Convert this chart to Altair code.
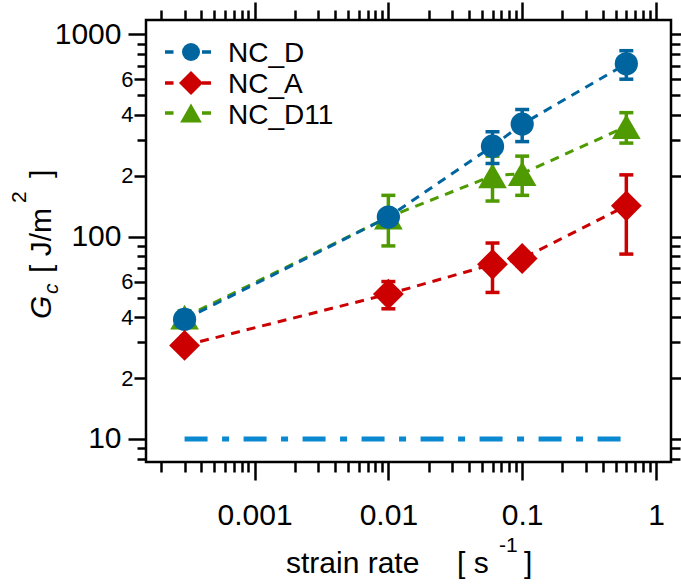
import altair as alt
import pandas as pd

# ---------------- data ----------------
strain_rate = [0.0003, 0.01, 0.06, 0.1, 0.6]
series_names = ["NC_D", "NC_A", "NC_D11"]
nc_d = [39, 125, 280, 360, 715]
nc_d_err = [3, 10, 50, 65, 115]
nc_a = [29, 52, 73, 78, 142]
nc_a_err = [2, 8, 20, 6, 60]
nc_d11 = [40, 125, 200, 205, 350]
nc_d11_err = [3, 35, 50, 45, 60]
ref_x = [0.0003, 0.6]
ref_y = [10, 10]

x_ticks = [0.0002, 0.0003, 0.0004, 0.0005, 0.0006, 0.0007, 0.0008, 0.0009,
           0.001, 0.002, 0.003, 0.004, 0.005, 0.006, 0.007, 0.008, 0.009,
           0.01, 0.02, 0.03, 0.04, 0.05, 0.06, 0.07, 0.08, 0.09,
           0.1, 0.2, 0.3, 0.4, 0.5, 0.6, 0.7, 0.8, 0.9, 1]
y_ticks = [8, 9, 10, 20, 30, 40, 50, 60, 70, 80, 90,
           100, 200, 300, 400, 500, 600, 700, 800, 900, 1000]

colors = {"NC_D": "#00659f", "NC_A": "#cc0000", "NC_D11": "#4e9a00"}
shapes = {"NC_D": "circle", "NC_A": "diamond", "NC_D11": "triangle-up"}
sizes = {"NC_D": 540, "NC_A": 950, "NC_D11": 820}
values = {"NC_D": (nc_d, nc_d_err), "NC_A": (nc_a, nc_a_err), "NC_D11": (nc_d11, nc_d11_err)}

FONT = "Liberation Sans"
W, H = 525, 442
XDOM = [1.545e-4, 1.294]
YDOM = [7.696, 1177]

xs = alt.Scale(type="log", domain=XDOM, nice=False)
ys = alt.Scale(type="log", domain=YDOM, nice=False)

LOG = "(log(datum.value)/LN10)"
ISDEC = f"abs({LOG} - round({LOG})) < 0.001"
MANT = f"round(datum.value / pow(10, floor({LOG} + 0.001)))"
ISLAB = f"({MANT} == 2 || {MANT} == 4 || {MANT} == 6)"

def xaxis(orient, labels):
    kw = dict(values=x_ticks, orient=orient, domain=False, grid=False, title=None,
              tickColor="black", tickWidth=2.5,
              tickSize={"condition": {"test": ISDEC, "value": 18}, "value": 10})
    if labels:
        kw.update(labelExpr=f"{ISDEC} ? format(datum.value, '~g') : ''",
                  labelFont=FONT, labelFontSize=30, labelColor="black",
                  labelPadding=20, labelOverlap=False, labelFlush=False)
    else:
        kw.update(labels=False)
    return alt.Axis(**kw)

def yaxis(orient, labels):
    kw = dict(values=y_ticks, orient=orient, domain=False, grid=False, title=None,
              tickColor="black", tickWidth=2.5,
              tickSize={"condition": [{"test": ISDEC, "value": 18},
                                      {"test": ISLAB, "value": 12}], "value": 9})
    if labels:
        kw.update(labelExpr=f"{ISDEC} ? format(datum.value, '~g') : ({ISLAB} ? format({MANT}, 'd') : '')",
                  labelFont=FONT, labelColor="black",
                  labelFontSize={"condition": {"test": ISDEC, "value": 30}, "value": 22},
                  labelPadding={"condition": {"test": ISDEC, "value": 7}, "value": 1},
                  labelOverlap=False, labelFlush=False)
    else:
        kw.update(labels=False)
    return alt.Axis(**kw)

ref_df = pd.DataFrame({"x": ref_x, "y": ref_y})

# axis holder 1 (bottom / left) + reference dash-dot line
ref_line = alt.Chart(ref_df).mark_line(
    color="#0a88d0", strokeWidth=5, strokeDash=[23, 14.5, 7, 14.5]
).encode(
    x=alt.X("x:Q", scale=xs, axis=xaxis("bottom", True)),
    y=alt.Y("y:Q", scale=ys, axis=yaxis("left", True)),
)
# axis holder 2 (top / right)
ref_ghost = alt.Chart(ref_df).mark_line(opacity=0).encode(
    x=alt.X("x:Q", scale=xs, axis=xaxis("top", False)),
    y=alt.Y("y:Q", scale=ys, axis=yaxis("right", False)),
)

layers = [ref_line, ref_ghost]

for name in ["NC_D11", "NC_D", "NC_A"]:
    v, e = values[name]
    df = pd.DataFrame({"x": strain_rate, "y": v, "err": e})
    base = alt.Chart(df).transform_calculate(
        lo="datum.y - datum.err", hi="datum.y + datum.err"
    )
    c = colors[name]
    X = alt.X("x:Q", scale=xs, axis=None)
    line = base.mark_line(color=c, strokeWidth=3, strokeDash=[9, 7]).encode(
        x=X, y=alt.Y("y:Q", scale=ys, axis=None))
    bar = base.mark_rule(color=c, strokeWidth=3.5).encode(
        x=X, y=alt.Y("lo:Q", scale=ys, axis=None), y2="hi:Q")
    cap_lo = base.mark_tick(color=c, orient="horizontal", size=14, thickness=3.5, opacity=1).encode(
        x=X, y=alt.Y("lo:Q", scale=ys, axis=None))
    cap_hi = base.mark_tick(color=c, orient="horizontal", size=14, thickness=3.5, opacity=1).encode(
        x=X, y=alt.Y("hi:Q", scale=ys, axis=None))
    pts = base.mark_point(shape=shapes[name], filled=True, size=sizes[name], color=c,
                          opacity=1, strokeWidth=0).encode(
        x=X, y=alt.Y("y:Q", scale=ys, axis=None))
    layers += [line, bar, cap_lo, cap_hi, pts]

# ---------------- legend (manual) ----------------
OX, OY = 146, 20  # plot origin in page pixels
leg_rows = [52, 83, 113]
leg_text_base = [62, 93, 124]
one = pd.DataFrame({"a": [0]})
for i, name in enumerate(series_names):
    c = colors[name]
    layers.append(alt.Chart(one).mark_rule(color=c, strokeWidth=3.5, strokeDash=[8.5, 28.5, 9, 200]).encode(
        x=alt.value(165 - OX), x2=alt.value(211 - OX), y=alt.value(leg_rows[i] - OY)))
    lsize = {"NC_D": 324, "NC_A": 576, "NC_D11": 470}[name]
    layers.append(alt.Chart(one).mark_point(shape=shapes[name], filled=True, size=lsize, color=c,
                                            opacity=1, strokeWidth=0).encode(
        x=alt.value(191 - OX), y=alt.value(leg_rows[i] - OY)))
    layers.append(alt.Chart(pd.DataFrame({"t": [name]})).mark_text(
        font=FONT, fontSize=28, color="black", align="left", baseline="alphabetic").encode(
        x=alt.value(228 - OX), y=alt.value(leg_text_base[i] - OY), text="t:N"))

def txt(s, x, y, size, angle=0, italic=False):
    kw = dict(font=FONT, fontSize=size, color="black", align="left", baseline="alphabetic")
    if angle:
        kw["angle"] = angle
    if italic:
        kw["fontStyle"] = "italic"
    return alt.Chart(pd.DataFrame({"t": [s]})).mark_text(**kw).encode(
        x=alt.value(x - OX), y=alt.value(y - OY), text="t:N")

# y title: G_c [ J/m^2 ]
layers += [
    txt("G", 51, 319, 30, 270, True),
    txt("c", 58, 294, 21, 270, True),
    txt("[ J/m", 51, 273, 30, 270),
    txt("2", 26, 203, 21, 270),
    txt("]", 51, 178, 30, 270),
]
# x title: strain rate [ s^-1 ]
layers += [
    txt("strain rate", 286, 573, 30),
    txt("[ s", 457, 573, 30),
    txt("-1", 499, 552, 21),
    txt("]", 524, 573, 30),
]

chart = alt.layer(*layers).resolve_axis(x="independent", y="independent").properties(
    width=W, height=H,
    autosize=alt.AutoSizeParams(type="none"),
    padding={"left": OX, "top": OY, "right": 681 - OX - W, "bottom": 586 - OY - H},
    background="white",
).configure_view(stroke="black", strokeWidth=2.5)

chart.save("out.html", embed_options={"renderer": "svg", "actions": False})
